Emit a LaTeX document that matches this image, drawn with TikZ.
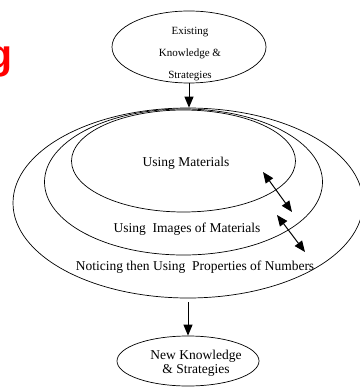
\documentclass[tikz,border=0pt]{standalone}
\usepackage{fontspec}
\setmainfont{Liberation Serif}
\newfontfamily\titlefont{Liberation Sans}
\usetikzlibrary{shapes.geometric,arrows.meta}
\begin{document}
\begin{tikzpicture}[
            x=1pt, y=-1pt,
            >={Triangle[length=11pt,width=9pt]},
            ring/.style={draw, ellipse, inner sep=0pt, line width=0.7pt},
            lbl/.style={inner sep=0pt, align=center, font=\fontsize{13.5pt}{14pt}\selectfont},
            arr/.style={line width=1pt}
        ]
           \useasboundingbox (0,0) rectangle (359,387);

           \node[text=red, anchor=base east, inner sep=0pt,
                 font=\titlefont\bfseries\fontsize{41pt}{41pt}\selectfont] (title) at (13,69) {g};

           \node[ring, minimum width=154pt, minimum height=72pt] (exist) at (189,47) {};
           \node[inner sep=0pt, align=center, font=\fontsize{11pt}{22pt}\selectfont] (existtxt) at (190,54) {Existing\\Knowledge \&\\Strategies};

           \node[ring, minimum width=350pt, minimum height=190pt] (outer) at (188,203) {};
           \node[ring, minimum width=278pt, minimum height=146pt] (middle) at (183.5,182) {};
           \node[ring, minimum width=224pt, minimum height=102pt] (inner) at (183.5,161) {};

           \node[lbl] (mat) at (186,163) {Using Materials};
           \node[lbl] (img) at (187,229) {Using~ Images of Materials};
           \node[lbl] (prop) at (195,267) {Noticing then Using~ Properties of Numbers};

           \node[ring, minimum width=142pt, minimum height=50pt] (new) at (188,361) {};
           \node[lbl] (newtxt) at (196,363) {New Knowledge\\\& Strategies};

           \coordinate (d1a) at (263,172);
           \coordinate (d1b) at (292,212);
           \coordinate (d2a) at (277,215);
           \coordinate (d2b) at (305,252);

           \draw[arr, ->] (exist.south) -- (exist.south |- outer.north);
           \draw[arr, ->, shorten <=4pt] (outer.south) -- (new.north);
           \draw[arr, <->] (d1a) -- (d1b);
           \draw[arr, <->] (d2a) -- (d2b);
        \end{tikzpicture}
\end{document}
